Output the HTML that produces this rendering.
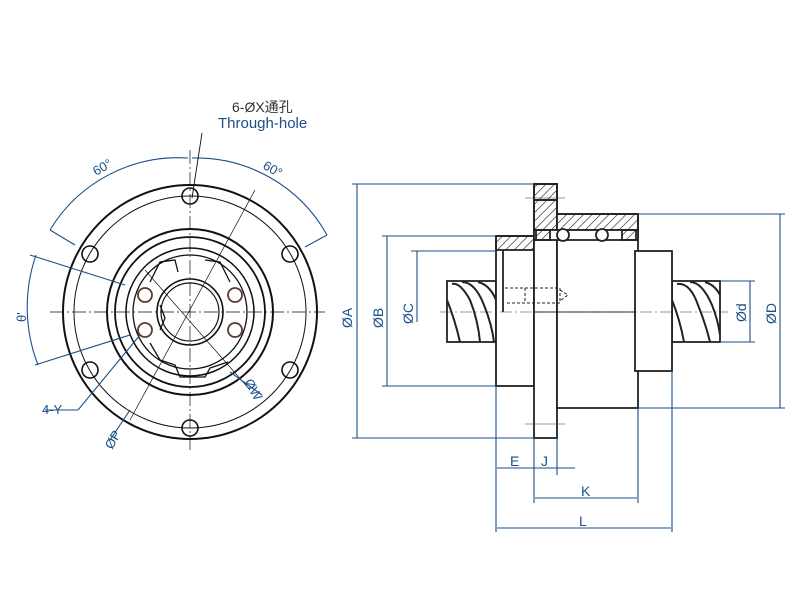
<!DOCTYPE html>
<html><head><meta charset="utf-8"><style>html,body{margin:0;padding:0;background:#fff}svg{display:block}</style></head><body>
<svg width="800" height="600" viewBox="0 0 800 600" xmlns="http://www.w3.org/2000/svg" font-family="Liberation Sans, sans-serif">
<defs>
<pattern id="h" width="6" height="6" patternUnits="userSpaceOnUse" patternTransform="rotate(45)"><line x1="0" y1="0" x2="0" y2="6" stroke="#222" stroke-width="1.2"/></pattern>
</defs>
<g fill="none" stroke="#111">
<line x1="50" y1="312" x2="325" y2="312" stroke-width="0.7" stroke-dasharray="14 3 2 3"/>
<line x1="190" y1="150" x2="190" y2="450" stroke-width="0.7" stroke-dasharray="14 3 2 3"/>
<circle cx="190" cy="312" r="127" stroke-width="2"/>
<circle cx="190" cy="312" r="116" stroke-width="1"/>
<circle cx="190" cy="312" r="83" stroke-width="2"/>
<circle cx="190" cy="312" r="75" stroke-width="1.8"/>
<circle cx="190" cy="312" r="64" stroke-width="1.5"/>
<circle cx="190" cy="312" r="57" stroke-width="1.3"/>
<circle cx="190" cy="312" r="33" stroke-width="1.6"/>
<circle cx="190" cy="312" r="29" stroke-width="1.2"/>
<g stroke-width="1.6">
<circle cx="190" cy="196" r="8"/><circle cx="290" cy="254" r="8"/><circle cx="290" cy="370" r="8"/>
<circle cx="190" cy="428" r="8"/><circle cx="90" cy="370" r="8"/><circle cx="90" cy="254" r="8"/>
</g>
<g stroke="#5a3a30" stroke-width="1.8">
<circle cx="145" cy="295" r="7"/><circle cx="235" cy="295" r="7"/><circle cx="145" cy="330" r="7"/><circle cx="235" cy="330" r="7"/>
</g>
<path d="M150 282 L160 262 L175 260 L178 272 M205 260 L220 262 L230 282 M150 343 L160 360 L175 365 L180 377 L205 377 L210 368 L228 362 M160 305 L165 318 L160 330" stroke-width="1.3"/>
<line x1="130" y1="420" x2="255" y2="190" stroke-width="0.7"/>
<line x1="145" y1="270" x2="250" y2="390" stroke-width="0.7"/>
</g>
<g fill="none" stroke="#1a4f8a" stroke-width="1.1">
<path d="M50 230 A150 150 0 0 1 188 158"/><path d="M192 158 A150 150 0 0 1 327 235"/>
<line x1="50" y1="230" x2="75" y2="245"/><line x1="327" y1="235" x2="305" y2="247"/>
<path d="M36 255 A160 160 0 0 0 38 365"/>
<line x1="30" y1="255" x2="125" y2="285"/><line x1="35" y1="365" x2="130" y2="335"/>
<line x1="45" y1="410" x2="78" y2="410"/><line x1="78" y1="410" x2="140" y2="335"/>
<line x1="230" y1="372" x2="262" y2="395"/>
<line x1="110" y1="440" x2="130" y2="410"/>
</g>
<line x1="202" y1="133" x2="192" y2="198" stroke="#111" stroke-width="0.9"/>
<g fill="#1a4f8a" font-size="13">
<text x="218" y="128" font-size="15">Through-hole</text>
<text x="96" y="176" transform="rotate(-30 96 176)">60°</text>
<text x="262" y="168" transform="rotate(30 262 168)">60°</text>
<text x="26" y="322" transform="rotate(-90 26 322)">θ'</text>
<text x="42" y="414">4-Y</text>
<text x="244" y="382" transform="rotate(60 244 382)">ØW</text>
<text x="112" y="450" transform="rotate(-60 112 450)">ØP</text>
</g>
<text x="232" y="112" font-size="14" fill="#333" font-family="Liberation Sans, Noto Sans CJK SC, sans-serif">6-ØX通孔</text>
<g stroke="#222" stroke-width="1.8">
<rect x="447" y="281" width="49" height="61" fill="#fff"/>
<rect x="672" y="281" width="48" height="61" fill="#fff"/>
<g fill="none" stroke-width="2">
<path d="M452 284 Q460 282 470 300 Q478 320 480 342 M462 282 Q475 282 484 305 Q492 325 494 342 M447 300 Q455 320 460 342 M478 282 Q490 285 496 300"/>
<path d="M677 284 Q690 282 698 305 Q706 325 710 342 M690 282 Q702 282 712 305 Q718 320 720 335 M672 300 Q680 320 684 342 M705 282 Q715 285 720 295"/>
</g>
<rect x="496" y="236" width="38" height="150" fill="#fff"/>
<rect x="496" y="236" width="38" height="14" fill="url(#h)"/>
<line x1="503" y1="250" x2="503" y2="312"/>
<rect x="534" y="184" width="23" height="254" fill="#fff"/>
<rect x="534" y="184" width="23" height="16" fill="url(#h)"/>
<rect x="557" y="214" width="81" height="194" fill="#fff"/>
<path d="M534 200 L557 200 L557 214 L638 214 L638 230 L534 230 Z" fill="url(#h)"/>
<rect x="534" y="230" width="104" height="10" fill="#fff"/>
<rect x="536" y="230" width="14" height="10" fill="url(#h)"/>
<rect x="622" y="230" width="14" height="10" fill="url(#h)"/>
<circle cx="563" cy="235" r="6" fill="#fff"/><circle cx="602" cy="235" r="6" fill="#fff"/>
<rect x="635" y="251" width="37" height="120" fill="#fff"/>
<line x1="535" y1="312" x2="635" y2="312" stroke-width="1"/>
<path d="M505 288 L560 288 L560 303 L505 303 M525 288 L525 303 M560 290 L568 295 L560 301" fill="none" stroke-width="1" stroke-dasharray="3 2"/>
</g>
<line x1="440" y1="312" x2="728" y2="312" stroke="#333" stroke-width="0.6" stroke-dasharray="12 3 2 3"/>
<line x1="525" y1="198" x2="565" y2="198" stroke="#333" stroke-width="0.6"/>
<line x1="525" y1="424" x2="565" y2="424" stroke="#333" stroke-width="0.6"/>
<g stroke="#1a4f8a" stroke-width="1.1" fill="none">
<line x1="352" y1="184" x2="534" y2="184"/><line x1="352" y1="438" x2="534" y2="438"/><line x1="357" y1="184" x2="357" y2="438"/>
<line x1="382" y1="236" x2="496" y2="236"/><line x1="382" y1="386" x2="496" y2="386"/><line x1="387" y1="236" x2="387" y2="386"/>
<line x1="411" y1="251" x2="496" y2="251"/><line x1="417" y1="251" x2="417" y2="322"/>
<line x1="638" y1="214" x2="785" y2="214"/><line x1="638" y1="408" x2="785" y2="408"/><line x1="780" y1="214" x2="780" y2="408"/>
<line x1="720" y1="281" x2="755" y2="281"/><line x1="720" y1="342" x2="755" y2="342"/><line x1="750" y1="281" x2="750" y2="342"/>
<line x1="496" y1="386" x2="496" y2="532"/><line x1="672" y1="371" x2="672" y2="532"/>
<line x1="534" y1="438" x2="534" y2="503"/><line x1="557" y1="438" x2="557" y2="475"/><line x1="638" y1="408" x2="638" y2="503"/>
<line x1="497" y1="468" x2="575" y2="468"/>
<line x1="535" y1="498" x2="637" y2="498"/>
<line x1="497" y1="528" x2="671" y2="528"/>
</g>
<g fill="#1a4f8a" font-size="14">
<text x="352" y="328" transform="rotate(-90 352 328)">ØA</text>
<text x="383" y="328" transform="rotate(-90 383 328)">ØB</text>
<text x="413" y="324" transform="rotate(-90 413 324)">ØC</text>
<text x="746" y="322" transform="rotate(-90 746 322)">Ød</text>
<text x="776" y="324" transform="rotate(-90 776 324)">ØD</text>
<text x="510" y="466">E</text><text x="541" y="466">J</text>
<text x="581" y="496">K</text><text x="579" y="526">L</text>
</g>
</svg>
</body></html>
